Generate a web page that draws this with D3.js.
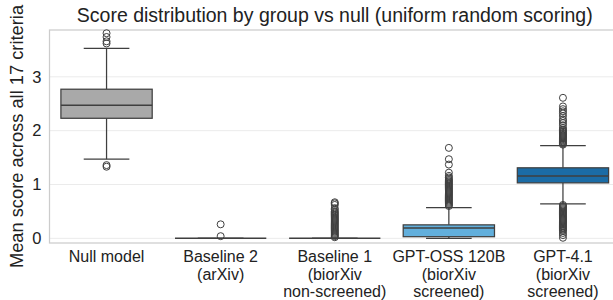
<!DOCTYPE html>
<html>
<head>
<meta charset="utf-8">
<script src="https://cdn.jsdelivr.net/npm/d3@7"></script>
<style>
  body { margin: 0; background: #fff; }
  text { font-family: "Liberation Sans", Arial, sans-serif; fill: #222; }
</style>
</head>
<body>
<svg id="chart" width="613" height="300"></svg>
<script>
// categories (x labels, one entry per line)
var groups = ["null", "base2", "base1", "oss", "gpt41"];
var groupLabels = [
  ["Null model"],
  ["Baseline 2", "(arXiv)"],
  ["Baseline 1", "(biorXiv", "non-screened)"],
  ["GPT-OSS 120B", "(biorXiv", "screened)"],
  ["GPT-4.1", "(biorXiv", "screened)"]
];
var boxColors = ["#a9a9a9", "#9a9a9a", "#9a9a9a", "#62afdc", "#1b6ca6"];

// box stats: [whisker low, q1, median, q3, whisker high]
var nullStats  = [1.47, 2.23, 2.47, 2.77, 3.53];
var base2Stats = [0, 0, 0, 0, 0];
var base1Stats = [0, 0, 0, 0, 0];
var ossStats   = [0, 0.03, 0.19, 0.25, 0.57];
var gpt41Stats = [0.64, 1.03, 1.16, 1.31, 1.72];

// outliers
var nullOut  = [1.33, 1.36, 3.62, 3.66, 3.74, 3.81];
var base2Out = [0.04, 0.26];
var base1Out = [0.02, 0.04, 0.06, 0.08, 0.10, 0.12, 0.14, 0.16, 0.18, 0.20, 0.22, 0.24,
  0.26, 0.28, 0.30, 0.32, 0.34, 0.36, 0.38, 0.40, 0.42, 0.44, 0.46, 0.48, 0.50, 0.53,
  0.56, 0.62, 0.65, 0.67];
var ossOut = [0.60, 0.62, 0.64, 0.66, 0.68, 0.70, 0.72, 0.74, 0.76, 0.78, 0.80, 0.82,
  0.84, 0.86, 0.88, 0.90, 0.92, 0.94, 0.96, 0.98, 1.00, 1.02, 1.04, 1.06, 1.08, 1.10,
  1.13, 1.16, 1.22, 1.37, 1.47, 1.68];
var gpt41Out = [0.01, 0.06, 0.10, 0.14, 0.16, 0.18, 0.20, 0.22, 0.24, 0.26, 0.28, 0.30,
  0.32, 0.34, 0.36, 0.38, 0.40, 0.42, 0.44, 0.46, 0.48, 0.50, 0.52, 0.54, 0.56, 0.58,
  0.60, 0.62, 1.74, 1.76, 1.78, 1.80, 1.82, 1.84, 1.86, 1.88, 1.90, 1.92, 1.94, 1.96,
  1.98, 2.00, 2.02, 2.05, 2.10, 2.14, 2.18, 2.21, 2.27, 2.32, 2.36, 2.40, 2.45, 2.61];

var yTicks = [0, 1, 2, 3];

var allStats = [nullStats, base2Stats, base1Stats, ossStats, gpt41Stats];
var allOut = [nullOut, base2Out, base1Out, ossOut, gpt41Out];

var boxes = groups.map(function(g, i) {
  return {key: g, label: groupLabels[i], color: boxColors[i], s: allStats[i], out: allOut[i]};
});

var plot = {left: 49.5, right: 620, top: 30, bottom: 243};
var lineCol = "#3f3f3f";

var svg = d3.select("#chart");

var x = d3.scaleBand().domain(groups).range([plot.left, plot.right]).padding(0);
var y = d3.scaleLinear().domain([-0.087, 3.87]).range([plot.bottom, plot.top]);

var boxW = x.bandwidth() * 0.8;
var capW = boxW * 0.5;

// grid
svg.append("g").selectAll("line").data(yTicks).enter().append("line")
  .attr("x1", plot.left).attr("x2", plot.right)
  .attr("y1", function(d) { return y(d); }).attr("y2", function(d) { return y(d); })
  .attr("stroke", "#ebebeb").attr("stroke-width", 1);

// spines
svg.append("rect")
  .attr("x", plot.left).attr("y", plot.top)
  .attr("width", plot.right - plot.left).attr("height", plot.bottom - plot.top)
  .attr("fill", "none").attr("stroke", "#cccccc").attr("stroke-width", 1.25);

// y axis (no tick marks, only labels)
var yAxis = d3.axisLeft(y).tickValues(yTicks).tickSize(0).tickPadding(8).tickFormat(d3.format("d"));
var yg = svg.append("g").attr("transform", "translate(" + plot.left + ",0)").call(yAxis);
yg.select(".domain").remove();
yg.selectAll("text").attr("font-size", 16.5).attr("fill", "#222")
  .style("font-family", "'Liberation Sans', Arial, sans-serif");

// x axis labels, multi-line
var xg = svg.append("g");
boxes.forEach(function(b) {
  var t = xg.append("text")
    .attr("x", x(b.key) + x.bandwidth() / 2)
    .attr("y", 262)
    .attr("text-anchor", "middle")
    .attr("font-size", 16);
  b.label.forEach(function(line, j) {
    t.append("tspan").attr("x", x(b.key) + x.bandwidth() / 2)
      .attr("dy", j === 0 ? 0 : 17.5).text(line);
  });
});

// boxes
var g = svg.append("g").selectAll("g").data(boxes).enter().append("g");

g.each(function(b) {
  var el = d3.select(this);
  var cx = x(b.key) + x.bandwidth() / 2;
  var s = b.s;
  // whiskers
  el.append("line").attr("x1", cx).attr("x2", cx).attr("y1", y(s[0])).attr("y2", y(s[1]))
    .attr("stroke", lineCol).attr("stroke-width", 1.25);
  el.append("line").attr("x1", cx).attr("x2", cx).attr("y1", y(s[3])).attr("y2", y(s[4]))
    .attr("stroke", lineCol).attr("stroke-width", 1.25);
  // caps
  [s[0], s[4]].forEach(function(v) {
    el.append("line").attr("x1", cx - capW / 2).attr("x2", cx + capW / 2)
      .attr("y1", y(v)).attr("y2", y(v))
      .attr("stroke", lineCol).attr("stroke-width", 1.25);
  });
  // box
  el.append("rect").attr("x", cx - boxW / 2).attr("width", boxW)
    .attr("y", y(s[3])).attr("height", y(s[1]) - y(s[3]))
    .attr("fill", b.color).attr("stroke", lineCol).attr("stroke-width", 1.25);
  // median
  el.append("line").attr("x1", cx - boxW / 2).attr("x2", cx + boxW / 2)
    .attr("y1", y(s[2])).attr("y2", y(s[2]))
    .attr("stroke", lineCol).attr("stroke-width", 1.5);
  // outliers
  el.selectAll("circle").data(b.out).enter().append("circle")
    .attr("cx", cx).attr("cy", function(d) { return y(d); }).attr("r", 3.5)
    .attr("fill", "none").attr("stroke", lineCol).attr("stroke-width", 1);
});

// y label
svg.append("text")
  .attr("transform", "translate(23," + ((plot.top + plot.bottom) / 2) + ") rotate(-90)")
  .attr("text-anchor", "middle")
  .attr("font-size", 18.3)
  .text("Mean score across all 17 criteria");

// title
svg.append("text")
  .attr("x", (plot.left + plot.right) / 2)
  .attr("y", 22)
  .attr("text-anchor", "middle")
  .attr("font-size", 19.5)
  .text("Score distribution by group vs null (uniform random scoring)");
</script>
</body>
</html>
